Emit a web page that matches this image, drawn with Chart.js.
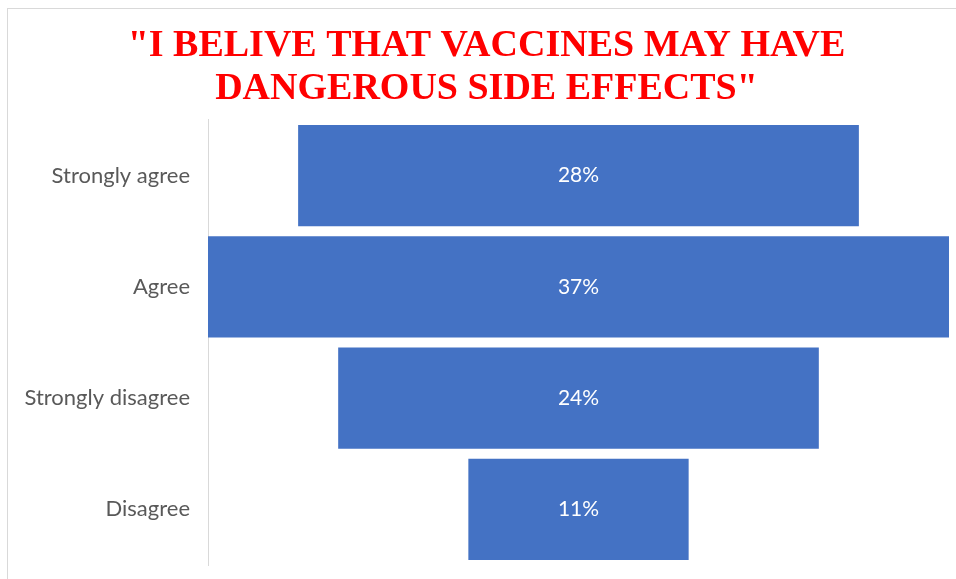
<!DOCTYPE html>
<html>
<head>
<meta charset="utf-8">
<script src="https://cdn.jsdelivr.net/npm/chart.js@4"></script>
<style>
  html, body { margin: 0; padding: 0; background: #fff; }
  #wrap { position: relative; width: 956px; height: 579px; }
  #chart { display: block; }
  #frame {
    position: absolute; left: 7px; top: 8px; right: 0; bottom: 0;
    border-left: 1px solid #d9d9d9; border-top: 1px solid #d9d9d9;
    pointer-events: none;
  }
</style>
</head>
<body>
<div id="wrap">
  <canvas id="chart" width="956" height="579"></canvas>
  <div id="frame"></div>
</div>
<script>
// Survey answers, top to bottom
const categories = ['Strongly agree', 'Agree', 'Strongly disagree', 'Disagree'];
const shares     = [28, 37, 24, 11];
const titleLines = ['"I BELIVE THAT VACCINES MAY HAVE', 'DANGEROUS SIDE EFFECTS"'];

const BAR_BLUE = '#4472C4';
const LABEL_FONT = 'Lato, "Open Sans", sans-serif';
const maxShare = Math.max(...shares);

// Funnel: each bar is centred on the middle of the widest one
const funnelData = shares.map(v => [(maxShare - v) / 2, (maxShare + v) / 2]);

// Percent labels in the middle of each bar
const barLabels = {
  id: 'barLabels',
  afterDatasetsDraw(chart) {
    const ctx = chart.ctx;
    const meta = chart.getDatasetMeta(0);
    ctx.save();
    ctx.fillStyle = '#ffffff';
    ctx.font = '21px ' + LABEL_FONT;
    ctx.textAlign = 'center';
    ctx.textBaseline = 'middle';
    meta.data.forEach((bar, i) => {
      ctx.fillText(shares[i] + '%', (bar.x + bar.base) / 2, bar.y);
    });
    ctx.restore();
  }
};

new Chart(document.getElementById('chart'), {
  type: 'bar',
  data: {
    labels: categories,
    datasets: [{
      data: funnelData,
      backgroundColor: BAR_BLUE,
      borderWidth: 0,
      barPercentage: 0.91,
      categoryPercentage: 1,
    }],
  },
  options: {
    indexAxis: 'y',
    responsive: false,
    animation: false,
    layout: { padding: { left: 24, right: 7, top: 0, bottom: 14 } },
    plugins: {
      legend: { display: false },
      tooltip: { enabled: false },
      title: {
        display: true,
        text: titleLines,
        color: '#ff0000',
        font: { family: '"Liberation Serif", "Times New Roman", serif', size: 38, weight: 'bold', lineHeight: 1.13 },
        padding: { top: 25, bottom: 9 },
      },
    },
    scales: {
      x: { display: false, min: 0, max: maxShare },
      y: {
        afterFit(scale) {
          scale.width = 184;
          scale.paddingTop = 0;
          scale.paddingBottom = 0;
        },
        grid: { display: false, drawTicks: false },
        border: { display: true, color: '#d9d9d9', width: 1 },
        ticks: { color: '#595959', padding: 18, font: { family: LABEL_FONT, size: 22 } },
      },
    },
  },
  plugins: [barLabels],
});
</script>
</body>
</html>
